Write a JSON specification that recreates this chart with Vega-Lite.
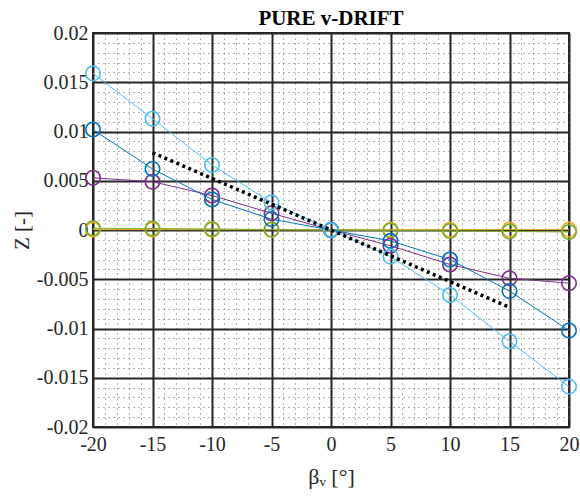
{
  "$schema": "https://vega.github.io/schema/vega-lite/v6.json",
  "autosize": "none",
  "width": 476,
  "height": 394,
  "padding": {"left": 93, "top": 33, "right": 11, "bottom": 70},
  "background": "white",
  "config": {
    "font": "Liberation Serif",
    "view": {"stroke": "#262626", "strokeWidth": 2}
  },
  "title": {
    "text": "PURE v-DRIFT",
    "font": "Liberation Serif",
    "fontSize": 21,
    "fontWeight": "bold",
    "color": "black",
    "anchor": "middle",
    "baseline": "alphabetic",
    "offset": 0,
    "dy": 23
  },
  "datasets": {
    "series": [
      {"s": "orange", "x": -20, "z": 0.00004}, {"s": "orange", "x": -15, "z": 0.00004}, {"s": "orange", "x": -10, "z": 0.00003}, {"s": "orange", "x": -5, "z": 0.00002}, {"s": "orange", "x": 0, "z": 0.0}, {"s": "orange", "x": 5, "z": 0.00002}, {"s": "orange", "x": 10, "z": 0.00003}, {"s": "orange", "x": 15, "z": 0.00004}, {"s": "orange", "x": 20, "z": 0.00004},
      {"s": "green", "x": -20, "z": 0.00018}, {"s": "green", "x": -15, "z": 0.00015}, {"s": "green", "x": -10, "z": 0.0001}, {"s": "green", "x": -5, "z": 0.00005}, {"s": "green", "x": 0, "z": 0.0}, {"s": "green", "x": 5, "z": -0.00005}, {"s": "green", "x": 10, "z": -0.0001}, {"s": "green", "x": 15, "z": -0.00015}, {"s": "green", "x": 20, "z": -0.0002},
      {"s": "purple", "x": -20, "z": 0.0053}, {"s": "purple", "x": -15, "z": 0.0049}, {"s": "purple", "x": -10, "z": 0.0035}, {"s": "purple", "x": -5, "z": 0.0017}, {"s": "purple", "x": 0, "z": 0.0}, {"s": "purple", "x": 5, "z": -0.0016}, {"s": "purple", "x": 10, "z": -0.0035}, {"s": "purple", "x": 15, "z": -0.0049}, {"s": "purple", "x": 20, "z": -0.0054},
      {"s": "blue", "x": -20, "z": 0.0102}, {"s": "blue", "x": -15, "z": 0.0062}, {"s": "blue", "x": -10, "z": 0.0031}, {"s": "blue", "x": -5, "z": 0.0011}, {"s": "blue", "x": 0, "z": 0.0}, {"s": "blue", "x": 5, "z": -0.0011}, {"s": "blue", "x": 10, "z": -0.003}, {"s": "blue", "x": 15, "z": -0.0062}, {"s": "blue", "x": 20, "z": -0.0102},
      {"s": "cyan", "x": -20, "z": 0.0159}, {"s": "cyan", "x": -15, "z": 0.0113}, {"s": "cyan", "x": -10, "z": 0.0066}, {"s": "cyan", "x": -5, "z": 0.0028}, {"s": "cyan", "x": 0, "z": 0.0}, {"s": "cyan", "x": 5, "z": -0.0027}, {"s": "cyan", "x": 10, "z": -0.0066}, {"s": "cyan", "x": 15, "z": -0.0113}, {"s": "cyan", "x": 20, "z": -0.0159}
    ],
    "ref": [
      {"x": -15, "z": 0.00785},
      {"x": 15, "z": -0.00785}
    ]
  },
  "encoding": {
    "x": {
      "field": "x", "type": "quantitative",
      "scale": {"domain": [-20, 20], "nice": false, "zero": false},
      "axis": {
        "values": [-20,-19,-18,-17,-16,-15,-14,-13,-12,-11,-10,-9,-8,-7,-6,-5,-4,-3,-2,-1,0,1,2,3,4,5,6,7,8,9,10,11,12,13,14,15,16,17,18,19,20],
        "labelExpr": "abs(round(datum.value)) % 5 === 0 ? '' + datum.value : ''",
        "labelFont": "Liberation Serif",
        "labelFontSize": 20,
        "labelColor": "#262626",
        "labelPadding": 7,
        "labelFlush": false,
        "labelOverlap": false,
        "ticks": false,
        "domain": false,
        "grid": true,
        "gridColor": {"condition": {"test": "abs(round(datum.value)) % 5 === 0", "value": "#262626"}, "value": "#666666"},
        "gridWidth": {"condition": {"test": "abs(round(datum.value)) % 5 === 0", "value": 2}, "value": 1},
        "gridDash": {"condition": {"test": "abs(round(datum.value)) % 5 === 0", "value": []}, "value": [1, 4]},
        "gridOpacity": 1,
        "title": "βᵥ [°]",
        "titleFont": "Liberation Serif",
        "titleFontSize": 22,
        "titleFontWeight": "normal",
        "titleColor": "#262626",
        "titlePadding": 12
      }
    },
    "y": {
      "field": "z", "type": "quantitative",
      "scale": {"domain": [-0.02, 0.02], "nice": false, "zero": false},
      "axis": {
        "values": [-0.02,-0.019,-0.018,-0.017,-0.016,-0.015,-0.014,-0.013,-0.012,-0.011,-0.01,-0.009,-0.008,-0.007,-0.006,-0.005,-0.004,-0.003,-0.002,-0.001,0,0.001,0.002,0.003,0.004,0.005,0.006,0.007,0.008,0.009,0.01,0.011,0.012,0.013,0.014,0.015,0.016,0.017,0.018,0.019,0.02],
        "labelExpr": "abs(round(datum.value * 1000)) % 5 === 0 ? '' + datum.value : ''",
        "labelFont": "Liberation Serif",
        "labelFontSize": 20,
        "labelColor": "#262626",
        "labelPadding": 5,
        "labelFlush": false,
        "labelOverlap": false,
        "ticks": false,
        "domain": false,
        "grid": true,
        "gridColor": {"condition": {"test": "abs(round(datum.value * 1000)) % 5 === 0", "value": "#262626"}, "value": "#666666"},
        "gridWidth": {"condition": {"test": "abs(round(datum.value * 1000)) % 5 === 0", "value": 2}, "value": 1},
        "gridDash": {"condition": {"test": "abs(round(datum.value * 1000)) % 5 === 0", "value": []}, "value": [1, 4]},
        "gridOpacity": 1,
        "title": "Z [-]",
        "titleFont": "Liberation Serif",
        "titleFontSize": 21,
        "titleFontWeight": "normal",
        "titleColor": "#262626",
        "titlePadding": 4
      }
    }
  },
  "layer": [
    {
      "data": {"name": "series"},
      "mark": {"type": "line", "strokeWidth": 1},
      "encoding": {
        "color": {
          "field": "s", "type": "nominal",
          "scale": {"domain": ["orange", "green", "purple", "blue", "cyan"], "range": ["#EDB120", "#77AC30", "#7E2F8E", "#0072BD", "#4DBEEE"]},
          "legend": null
        },
        "order": {"field": "x", "type": "quantitative"}
      }
    },
    {
      "data": {"name": "series"},
      "mark": {"type": "point", "shape": "circle", "filled": false, "size": 210, "strokeWidth": 1.6, "opacity": 1},
      "encoding": {
        "color": {"field": "s", "type": "nominal", "legend": null}
      }
    },
    {
      "data": {"name": "ref"},
      "mark": {"type": "line", "color": "black", "strokeWidth": 3.5, "strokeDash": [3, 3.5]},
      "encoding": {}
    }
  ]
}
